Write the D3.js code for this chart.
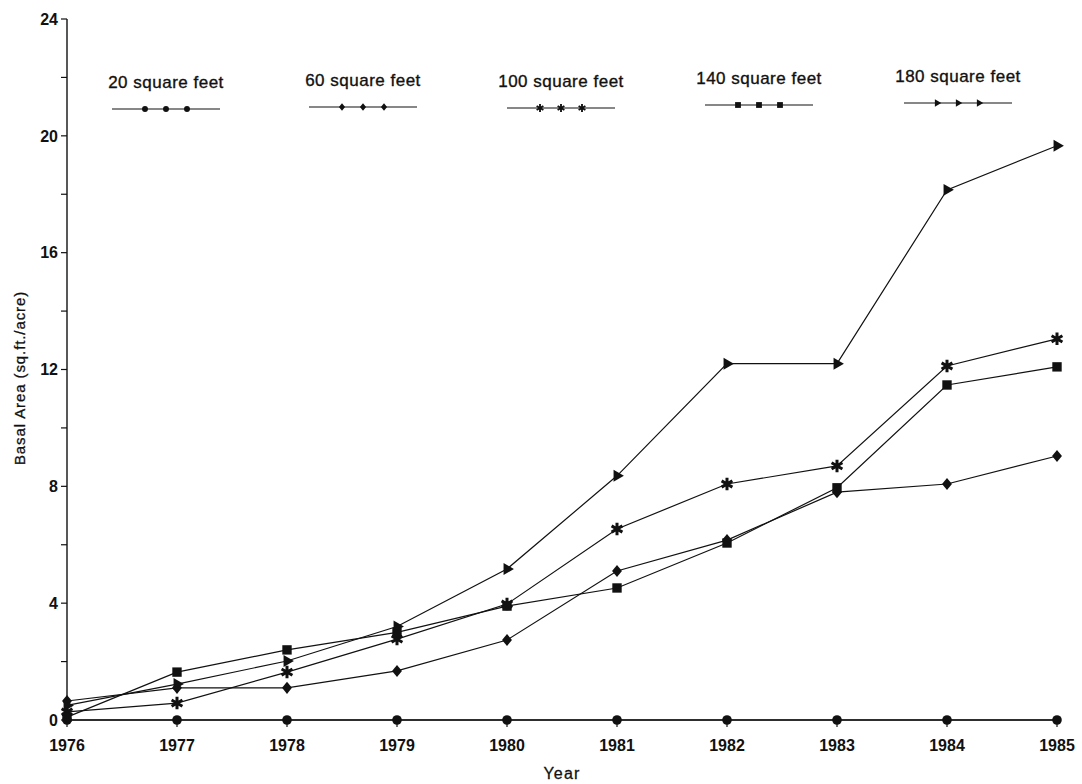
<!DOCTYPE html>
<html>
<head>
<meta charset="utf-8">
<script src="https://cdn.jsdelivr.net/npm/d3@7"></script>
<style>
  html, body { margin: 0; padding: 0; background: #fff; }
  svg { display: block; }
  text { font-family: "Liberation Sans", Arial, Helvetica, sans-serif; fill: #111; }
</style>
</head>
<body>
<svg id="chart" width="1082" height="784"></svg>
<script>
// Basal area growth by plot size, 1976–1985
const years = [1976, 1977, 1978, 1979, 1980, 1981, 1982, 1983, 1984, 1985];
const seriesNames = ["20 square feet", "60 square feet", "100 square feet", "140 square feet", "180 square feet"];
const sq20  = [0, 0, 0, 0, 0, 0, 0, 0, 0, 0];
const sq60  = [0.65, 1.1, 1.1, 1.68, 2.74, 5.1, 6.16, 7.8, 8.08, 9.04];
const sq100 = [0.28, 0.58, 1.64, 2.77, 3.97, 6.54, 8.08, 8.7, 12.12, 13.05];
const sq140 = [0.1, 1.64, 2.4, 3.0, 3.9, 4.52, 6.06, 7.95, 11.47, 12.09];
const sq180 = [0.5, 1.23, 2.02, 3.2, 5.17, 8.36, 12.2, 12.2, 18.15, 19.66];
const yTicks = [0, 2, 4, 6, 8, 10, 12, 14, 16, 18, 20, 22, 24];
const yTickLabels = [0, 4, 8, 12, 16, 20, 24];
const xLabel = "Year";
const yLabel = "Basal Area (sq.ft./acre)";

const seriesValues = [sq20, sq60, sq100, sq140, sq180];
const markerKinds = ["circle", "diamond", "asterisk", "square", "triangle"];

const svg = d3.select("#chart");
const x = d3.scaleLinear().domain([1976, 1985]).range([67, 1057]);
const y = d3.scaleLinear().domain([0, 24]).range([720, 19]);

// a diamond a little wider than d3's built-in one
const wideDiamond = {
  draw(ctx, size) {
    const h = Math.sqrt(size) * 0.78, w = h * 0.82;
    ctx.moveTo(0, -h); ctx.lineTo(w, 0); ctx.lineTo(0, h); ctx.lineTo(-w, 0); ctx.closePath();
  }
};
const symbolTypes = {
  circle: d3.symbolCircle,
  diamond: wideDiamond,
  square: d3.symbolSquare,
  triangle: d3.symbolTriangle,
  asterisk: d3.symbolAsterisk
};
const baseSizes = { circle: 72, diamond: 60, square: 88, triangle: 62, asterisk: 110 };

function drawMarker(g, kind, cx, cy, scale) {
  const p = g.append("path")
    .attr("d", d3.symbol().type(symbolTypes[kind]).size(baseSizes[kind] * scale * scale)())
    .attr("transform", `translate(${cx},${cy})` + (kind === "triangle" ? " rotate(90)" : ""));
  if (kind === "asterisk") {
    p.attr("fill", "none").attr("stroke", "#111").attr("stroke-width", 3 * scale);
  } else {
    p.attr("fill", "#111").attr("stroke", "none");
  }
}

// y axis with ticks every 2, labels every 4
const yAxis = svg.append("g").attr("transform", "translate(67,0)");
yAxis.append("line").attr("x1", 0).attr("x2", 0).attr("y1", y(24)).attr("y2", y(0))
  .attr("stroke", "#111").attr("stroke-width", 1.4);
yAxis.selectAll("line.tick").data(yTicks).join("line")
  .attr("class", "tick").attr("x1", -6).attr("x2", 0)
  .attr("y1", d => y(d)).attr("y2", d => y(d))
  .attr("stroke", "#111").attr("stroke-width", 1.2);
yAxis.selectAll("text").data(yTickLabels).join("text")
  .attr("x", -9).attr("y", d => y(d)).attr("dy", "0.36em")
  .attr("text-anchor", "end").attr("font-size", 16).attr("font-weight", "bold")
  .text(d => d);

// x axis baseline with year ticks
const xAxis = svg.append("g").attr("transform", `translate(0,${y(0)})`);
xAxis.append("line").attr("x1", x(1976)).attr("x2", x(1985)).attr("y1", 0).attr("y2", 0)
  .attr("stroke", "#111").attr("stroke-width", 1.3);
xAxis.selectAll("line.tick").data(years).join("line")
  .attr("class", "tick").attr("x1", d => x(d)).attr("x2", d => x(d))
  .attr("y1", 0).attr("y2", 7).attr("stroke", "#111").attr("stroke-width", 1.2);
xAxis.selectAll("text").data(years).join("text")
  .attr("x", d => x(d)).attr("y", 31)
  .attr("text-anchor", "middle").attr("font-size", 16).attr("font-weight", "bold")
  .text(d => d);

// axis titles
svg.append("text").attr("x", 562).attr("y", 779).attr("text-anchor", "middle")
  .attr("font-size", 16).attr("letter-spacing", "1.2px")
  .attr("stroke", "#111").attr("stroke-width", 0.3).text(xLabel);
svg.append("text").attr("transform", `translate(25,378) rotate(-90)`)
  .attr("text-anchor", "middle").attr("font-size", 15).attr("letter-spacing", "0.9px")
  .attr("stroke", "#111").attr("stroke-width", 0.3).text(yLabel);

// series lines and markers
const line = d3.line().x((d, i) => x(years[i])).y(d => y(d));
seriesValues.forEach(vals => {
  svg.append("path").attr("d", line(vals))
    .attr("fill", "none").attr("stroke", "#111").attr("stroke-width", 1.2);
});
seriesValues.forEach((vals, s) => {
  const g = svg.append("g");
  vals.forEach((v, i) => drawMarker(g, markerKinds[s], x(years[i]), y(v), 1));
});

// legend across the top
const legendCenters = [166, 363, 561, 759, 958];
const legendTextY = [88, 86, 87, 84, 82];
seriesNames.forEach((name, s) => {
  const cx = legendCenters[s];
  const ty = legendTextY[s];
  const g = svg.append("g");
  g.append("text").attr("x", cx).attr("y", ty).attr("text-anchor", "middle")
    .attr("font-size", 17).attr("stroke", "#111").attr("stroke-width", 0.35)
    .attr("letter-spacing", "0.5px").text(name);
  const ly = ty + 21;
  g.append("line").attr("x1", cx - 54).attr("x2", cx + 54).attr("y1", ly).attr("y2", ly)
    .attr("stroke", "#111").attr("stroke-width", 1.1);
  [-21, 0, 21].forEach(dx => drawMarker(g, markerKinds[s], cx + dx, ly, 0.62));
});
</script>
</body>
</html>
